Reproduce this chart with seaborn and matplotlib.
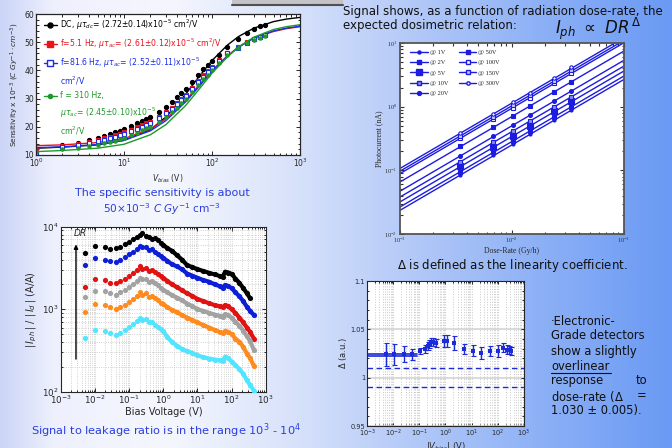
import numpy as np
import pandas as pd
import matplotlib
matplotlib.use("Agg")
import matplotlib.pyplot as plt
import matplotlib.ticker as mticker
from matplotlib.colors import LinearSegmentedColormap
from matplotlib.lines import Line2D
from matplotlib.patches import Rectangle
import seaborn as sns

# ---- sensitivity vs bias voltage (top left) ----
sens_bias = [1, 2, 3, 4, 5, 6, 7, 8, 9, 10, 12, 14, 16, 18, 20, 25, 30, 35, 40, 45,
             50, 60, 70, 80, 90, 100, 120, 150, 200, 250, 300, 350, 400]
sens_dc = [11.2, 13.5, 14.4, 15.3, 16.1, 16.7, 17.5, 18.0, 18.5, 19.2, 20.3, 21.2, 22.0, 22.8, 23.4, 25.2, 27.0, 28.8, 30.5, 32.0,
           33.4, 36.0, 38.5, 40.5, 42.0, 43.3, 45.6, 48.2, 51.3, 53.3, 54.7, 55.6, 56.2]
sens_f5 = [12.0, 13.2, 14.0, 14.6, 15.3, 15.9, 16.5, 17.0, 17.5, 18.0, 19.0, 19.8, 20.5, 21.2, 21.8, 23.4, 25.2, 26.8, 28.4, 29.8,
           31.2, 33.8, 36.2, 38.2, 39.8, 41.2, 43.6, 46.3, 48.2, 50.0, 51.2, 52.0, 52.6]
sens_f81 = [10.7, 12.7, 13.5, 14.1, 14.8, 15.4, 16.0, 16.5, 17.0, 17.5, 18.5, 19.3, 20.0, 20.7, 21.3, 23.0, 24.8, 26.4, 28.0, 29.4,
            30.8, 33.4, 35.8, 37.8, 39.4, 40.8, 43.2, 46.0, 48.0, 49.8, 51.0, 51.8, 52.4]
sens_f310 = [11.2, 12.0, 12.6, 13.1, 13.6, 14.1, 14.6, 15.1, 15.6, 16.0, 17.0, 17.9, 18.7, 19.4, 20.0, 21.8, 23.5, 25.2, 26.8, 28.3,
             29.7, 32.3, 34.8, 36.8, 38.5, 40.0, 42.6, 45.5, 47.8, 49.6, 50.8, 51.6, 52.2]
fit_bias = [1, 2, 5, 10, 20, 30, 50, 70, 100, 150, 200, 300, 500, 700, 1000]
fit_dc = [12.4, 12.8, 13.6, 15.2, 19.0, 23.5, 31.5, 37.5, 43.5, 49.0, 52.0, 55.0, 57.3, 58.2, 58.8]
fit_f5 = [13.3, 13.6, 14.4, 15.8, 19.2, 22.8, 29.3, 34.5, 40.0, 45.2, 48.3, 51.5, 53.8, 54.8, 55.5]
fit_f81 = [12.6, 12.9, 13.7, 15.2, 18.6, 22.2, 28.8, 34.0, 39.6, 45.0, 48.2, 51.5, 54.0, 55.0, 55.7]
fit_f310 = [11.2, 11.6, 12.4, 13.8, 17.2, 20.8, 27.5, 33.0, 39.0, 44.8, 48.3, 51.8, 54.5, 55.5, 56.2]
# legend text, one entry per printed line
sens_legend_lines = [r"DC, $\mu\tau_{dc}$= (2.72$\pm$0.14)x10$^{-5}$ cm$^2$/V",
                     r"f=5.1 Hz, $\mu\tau_{ac}$= (2.61$\pm$0.12)x10$^{-5}$ cm$^2$/V",
                     r"f=81.6 Hz, $\mu\tau_{ac}$= (2.52$\pm$0.11)x10$^{-5}$",
                     r"cm$^2$/V",
                     r"f = 310 Hz,",
                     r"$\mu\tau_{ac}$= (2.45$\pm$0.10)x10$^{-5}$",
                     r"cm$^2$/V"]

# ---- signal to leakage ratio (bottom left) ----
bias_v = [0.005, 0.01, 0.02, 0.028, 0.04, 0.055, 0.075, 0.1, 0.13, 0.17,
          0.2, 0.24, 0.3, 0.38, 0.46, 0.56, 0.7, 0.85, 1.0, 1.3,
          1.8, 2.5, 3.5, 5, 7, 10, 15, 22, 32, 45,
          55, 65, 80, 100, 130, 170, 220, 280, 350, 450]
ratio_black = [4840, 5900, 5600, 5300, 5450, 5750, 6100, 6600, 7000, 7600,
               8000, 8300, 7800, 7400, 7100, 7300, 6900, 6300, 6000, 5500,
               5100, 4500, 4000, 3400, 3250, 3050, 2900, 2750, 2640, 2520,
               2480, 2850, 2780, 2680, 2350, 2080, 1800, 1560, 1355, np.nan]
ratio_blue = [3430, 4210, 4000, 3800, 3750, 4000, 4300, 4700, 5000, 5400,
              5900, 5700, 5600, 5200, 5400, 5000, 4700, 4400, 4200, 3850,
              3500, 3300, 3050, 2700, 2550, 2400, 2250, 2150, 2000, 1900,
              1800, 1970, 1900, 1800, 1600, 1430, 1250, 1070, 950, 850]
ratio_red = [1875, 2320, 2250, 2100, 2050, 2200, 2350, 2550, 2750, 3000,
             3300, 3100, 3200, 2900, 3000, 2800, 2650, 2500, 2400, 2200,
             2000, 1850, 1700, 1550, 1450, 1330, 1250, 1180, 1120, 1080,
             1060, 1120, 1080, 1000, 900, 790, 690, 600, 530, 440]
ratio_gray = [1395, 1675, 1650, 1550, 1500, 1600, 1700, 1850, 2000, 2200,
              2400, 2300, 2350, 2150, 2200, 2050, 1950, 1800, 1720, 1600,
              1480, 1380, 1280, 1170, 1090, 1000, 950, 900, 860, 830,
              810, 870, 840, 790, 700, 630, 550, 470, 410, 320]
ratio_orange = [917, 1145, 1120, 1050, 1000, 1060, 1130, 1230, 1330, 1450,
                1600, 1500, 1560, 1420, 1450, 1350, 1280, 1200, 1150, 1060,
                980, 920, 850, 790, 740, 690, 640, 600, 560, 530,
                510, 545, 530, 500, 440, 400, 350, 290, 255, 205]
ratio_cyan = [452, 560, 545, 520, 490, 520, 560, 610, 660, 720,
              780, 730, 760, 690, 700, 650, 610, 580, 540, 460,
              400, 360, 330, 310, 295, 275, 262, 252, 245, 240,
              236, 266, 255, 232, 210, 187, 165, 138, 120, 103]

# ---- photocurrent vs dose rate (top right) ----
dose_rate = [0.0035, 0.0069, 0.0103, 0.0145, 0.024, 0.034]
fit_dose = [0.001, 0.1]
pc_labels = ["@ 1V", "@ 2V", "@ 5V", "@ 10V", "@ 20V", "@ 50V", "@ 100V", "@ 150V", "@ 300V"]
pc_1v = [0.0849, 0.171, 0.258, 0.367, 0.618, 0.89]
pc_2v = [0.0957, 0.192, 0.29, 0.413, 0.70, 1.0]
pc_5v = [0.115, 0.231, 0.35, 0.497, 0.84, 1.22]
pc_10v = [0.137, 0.275, 0.416, 0.59, 1.0, 1.44]
pc_20v = [0.169, 0.34, 0.514, 0.73, 1.23, 1.77]
pc_50v = [0.237, 0.476, 0.72, 1.02, 1.72, 2.43]
pc_100v = [0.32, 0.64, 0.97, 1.38, 2.33, 3.42]
pc_150v = [0.348, 0.70, 1.06, 1.50, 2.53, 3.75]
pc_300v = [0.384, 0.77, 1.17, 1.66, 2.80, 4.15]
pcfit_1v = [0.0233, 2.65]
pcfit_2v = [0.0263, 3.0]
pcfit_5v = [0.0316, 3.6]
pcfit_10v = [0.0377, 4.3]
pcfit_20v = [0.0465, 5.3]
pcfit_50v = [0.065, 7.4]
pcfit_100v = [0.088, 10.0]
pcfit_150v = [0.096, 10.9]
pcfit_300v = [0.106, 12.0]

# ---- linearity coefficient vs bias (bottom right) ----
delta_v = [0.0054, 0.011, 0.026, 0.052, 0.107, 0.166, 0.21, 0.24, 0.28, 0.34, 0.43, 0.88,
           1.1, 2.1, 5.3, 10.9, 21.8, 52, 101, 159, 224, 265, 330]
delta = [1.0243, 1.0243, 1.0243, 1.024, 1.0278, 1.0298, 1.0326, 1.0347, 1.037, 1.037, 1.036, 1.0378,
         1.0378, 1.036, 1.0295, 1.028, 1.0257, 1.0274, 1.0278, 1.0312, 1.0291, 1.0284, 1.0278]
delta_err = [0.012, 0.011, 0.0086, 0.006, 0.003, 0.004, 0.004, 0.004, 0.004, 0.004, 0.004, 0.006,
             0.006, 0.007, 0.005, 0.006, 0.006, 0.005, 0.006, 0.005, 0.005, 0.004, 0.004]
avg_v = [0.001, 0.085]
avg_hi = [1.025, 1.025]
avg_lo = [1.0226, 1.0226]
bound_hi = 1.01
bound_lo = 0.99

W, H = 672, 448
BLUE_TXT = "#2a3ee0"
PC_BLUE = "#1c1ce0"

sns.set_style("ticks")
plt.rcParams["font.family"] = ["DejaVu Sans"]
plt.rcParams["mathtext.fontset"] = "dejavusans"
plt.rcParams["xtick.direction"] = "in"
plt.rcParams["ytick.direction"] = "in"
plt.rcParams["xtick.top"] = True
plt.rcParams["ytick.right"] = True


def rect(x0, y0, x1, y1):
    # pixel box (left, top, right, bottom) -> figure fraction
    return [x0 / W, 1 - y1 / H, (x1 - x0) / W, (y1 - y0) / H]


def log_minor(ax, axis="x"):
    loc = mticker.LogLocator(base=10, subs=np.arange(2, 10), numticks=100)
    if axis == "x":
        ax.xaxis.set_minor_locator(loc)
        ax.xaxis.set_minor_formatter(mticker.NullFormatter())
    else:
        ax.yaxis.set_minor_locator(loc)
        ax.yaxis.set_minor_formatter(mticker.NullFormatter())


fig = plt.figure(figsize=(6.72, 4.48), dpi=100)

# slide background
bg = fig.add_axes([0, 0, 1, 1], zorder=-10)
stops = [0.0, 0.08, 0.25, 0.42, 0.6, 0.8, 1.0]
cols = ["#ccd5f7", "#eef1fd", "#f5f7fe", "#dbe4fb", "#b6cbf8", "#8eb1f6", "#6a9af4"]
cmap = LinearSegmentedColormap.from_list("slide", list(zip(stops, cols)))
bg.imshow(np.linspace(0, 1, 512)[None, :], aspect="auto", cmap=cmap, extent=[0, 1, 0, 1])
bg.set_xlim(0, 1)
bg.set_ylim(0, 1)
bg.axis("off")
bg.add_patch(Rectangle((232 / W, 1 - 5 / H), 111 / W, 5 / H, fc="#c4c4c8", ec="none"))
bg.plot([232 / W, 343 / W], [1 - 5 / H, 1 - 5 / H], color="#505050", lw=1.5)

# ---------------- sensitivity ----------------
ax1 = fig.add_axes(rect(36, 14, 300, 155))
ax1.set_facecolor("white")
sens_sets = [(sens_dc, fit_dc, "black", "o", "black", 3.0),
             (sens_f5, fit_f5, "#e8141c", "s", "#e8141c", 3.2),
             (sens_f81, fit_f81, "#1a2ee6", "s", "white", 3.2),
             (sens_f310, fit_f310, "#1e9a2a", "o", "#1e9a2a", 2.4)]
handles = []
for pts, fit, c, m, fc, ms in sens_sets:
    sns.lineplot(x=fit_bias, y=fit, color=c, lw=1.0, ax=ax1, estimator=None, sort=False)
    sns.lineplot(x=sens_bias, y=pts, color=c, marker=m, markersize=ms, markerfacecolor=fc,
                 markeredgecolor=c, markeredgewidth=0.8, linestyle="", ax=ax1, estimator=None, sort=False)
    handles.append(Line2D([], [], color=c, marker=m, markersize=ms + 0.6, markerfacecolor=fc,
                          markeredgecolor=c, lw=1.0))
blank = Line2D([], [], lw=0, marker=None)
leg_handles = [handles[0], handles[1], handles[2], blank, handles[3], blank, blank]
leg_colors = ["black", "#e8141c", "#1a2ee6", "#1a2ee6", "#1e9a2a", "#1e9a2a", "#1e9a2a"]
ax1.set_xscale("log")
ax1.set_xlim(1, 1000)
ax1.set_ylim(10, 60)
log_minor(ax1, "x")
ax1.yaxis.set_major_locator(mticker.MultipleLocator(10))
ax1.yaxis.set_minor_locator(mticker.MultipleLocator(2))
ax1.tick_params(which="both", labelsize=5.5, pad=1.5, length=3, width=0.7)
ax1.tick_params(which="minor", length=1.8)
ax1.set_xlabel(r"$V_{bias}$ (V)", fontsize=5.5, labelpad=2)
ax1.set_ylabel(r"Sensitivity x 10$^{-3}$ ($C\ Gy^{-1}\cdot cm^{-3}$)", fontsize=5.3, labelpad=2)
for s in ax1.spines.values():
    s.set_linewidth(0.9)
ax1.legend(leg_handles, sens_legend_lines, loc="upper left", bbox_to_anchor=(0.015, 1.005), frameon=False,
           fontsize=5.6, handlelength=1.7, handletextpad=0.4, labelspacing=0.6,
           labelcolor=leg_colors, borderaxespad=0.1)

fig.text(162 / W, 1 - 193 / H, "The specific sensitivity is about", ha="center", va="center",
         color=BLUE_TXT, fontsize=8.0)
fig.text(162 / W, 1 - 209 / H, r"50×10$^{-3}$ $C$ $Gy$$^{-1}$ cm$^{-3}$", ha="center", va="center",
         color=BLUE_TXT, fontsize=7.6)

# ---------------- signal / leakage ratio ----------------
ax2 = fig.add_axes(rect(61, 226.7, 265.7, 391.7))
ax2.set_facecolor("white")
ratio_sets = [(ratio_black, "#000000"), (ratio_blue, "#0c1ed8"), (ratio_red, "#e01212"),
              (ratio_gray, "#a2a2a2"), (ratio_orange, "#ff8a1e"), (ratio_cyan, "#50e6ff")]
for vals, c in ratio_sets:
    sns.lineplot(x=bias_v[18:], y=vals[18:], color=c, lw=3.0, ax=ax2, estimator=None, sort=False)
    sns.scatterplot(x=bias_v, y=vals, color=c, s=14, linewidth=0, ax=ax2, zorder=3)
ax2.set_xscale("log")
ax2.set_yscale("log")
ax2.set_xlim(1e-3, 1e3)
ax2.set_ylim(1e2, 1e4)
log_minor(ax2, "x")
log_minor(ax2, "y")
ax2.grid(True, which="both", color="#c4c4c4", ls=":", lw=0.6)
ax2.set_axisbelow(True)
ax2.tick_params(which="both", labelsize=6.3, pad=1.5, length=3, width=0.7)
ax2.tick_params(which="minor", length=1.6)
ax2.set_xlabel("Bias Voltage (V)", fontsize=7, labelpad=0.5)
ax2.set_ylabel(r"$|\,I_{ph}\,|\ /\ |\,I_d\,|$ (A/A)", fontsize=7, labelpad=2)
ax2.annotate("", xy=(2.75e-3, 6600), xytext=(2.75e-3, 230),
             arrowprops=dict(arrowstyle="-|>", color="black", lw=1.0, mutation_scale=6))
ax2.text(2.4e-3, 8200, "DR", fontsize=6.5, style="italic", va="center")

fig.text(166 / W, 1 - 431 / H, r"Signal to leakage ratio is in the range 10$^3$ - 10$^4$", ha="center",
         va="center", color=BLUE_TXT, fontsize=8.2)

# ---------------- photocurrent ----------------
fig.text(343 / W, 1 - 12 / H, "Signal shows, as a function of radiation dose-rate, the", va="center",
         fontsize=8.5, color="#101010")
fig.text(343 / W, 1 - 26 / H, "expected dosimetric relation:", va="center", fontsize=8.5, color="#101010")
fig.text(555 / W, 1 - 29 / H, r"$I_{ph}\ \propto\ DR^{\,\Delta}$", va="center", fontsize=12, color="#101010")

ax3 = fig.add_axes(rect(399.5, 43, 623.5, 234))
ax3.set_facecolor("white")
pc_sets = [(pc_1v, pcfit_1v, "o", PC_BLUE, 2.2), (pc_2v, pcfit_2v, "s", PC_BLUE, 3.2),
           (pc_5v, pcfit_5v, "s", PC_BLUE, 3.8), (pc_10v, pcfit_10v, "s", "#8a8af0", 3.4),
           (pc_20v, pcfit_20v, "o", PC_BLUE, 2.8), (pc_50v, pcfit_50v, "s", PC_BLUE, 3.4),
           (pc_100v, pcfit_100v, "s", "white", 3.2), (pc_150v, pcfit_150v, "s", "#c8c8ff", 3.2),
           (pc_300v, pcfit_300v, "o", "white", 2.4)]
pc_handles = []
for pts, fit, m, fc, ms in pc_sets:
    sns.lineplot(x=fit_dose, y=fit, color=PC_BLUE, lw=1.0, ax=ax3, estimator=None, sort=False)
    sns.lineplot(x=dose_rate, y=pts, color=PC_BLUE, marker=m, markersize=ms, markerfacecolor=fc,
                 markeredgecolor=PC_BLUE, markeredgewidth=0.8, linestyle="", ax=ax3,
                 estimator=None, sort=False)
    pc_handles.append(Line2D([], [], color=PC_BLUE, marker=m, markersize=ms, markerfacecolor=fc,
                             markeredgecolor=PC_BLUE, lw=1.0))
ax3.set_xscale("log")
ax3.set_yscale("log")
ax3.set_xlim(1e-3, 1e-1)
ax3.set_ylim(1e-2, 1e1)
log_minor(ax3, "x")
log_minor(ax3, "y")
ax3.tick_params(which="both", labelsize=4.6, pad=1.5, length=3, width=0.8, colors="#333333")
ax3.tick_params(which="minor", length=1.8)
for lab in ax3.get_xticklabels() + ax3.get_yticklabels():
    lab.set_family("Liberation Serif")
ax3.set_xlabel("Dose-Rate (Gy/h)", fontsize=5.6, family="Liberation Serif", labelpad=1)
ax3.set_ylabel("Photocurrent (nA)", fontsize=5.6, family="Liberation Serif", labelpad=1)
for s in ax3.spines.values():
    s.set_color("#555555")
    s.set_linewidth(1.3)
ax3.legend(pc_handles, pc_labels, ncol=2, loc="upper left", bbox_to_anchor=(0.03, 0.985), frameon=False,
           prop={"family": "Liberation Serif", "size": 4.6}, handlelength=2.8, handletextpad=0.3,
           labelspacing=0.75, columnspacing=1.6, borderaxespad=0.2)

fig.text(397 / W, 1 - 265 / H, r"$\Delta$ is defined as the linearity coefficient.", va="center",
         fontsize=8.5, color="#101010")

# ---------------- linearity coefficient ----------------
ax4 = fig.add_axes(rect(367, 281, 524, 426))
ax4.set_facecolor("white")
ax4.errorbar(delta_v, delta, yerr=delta_err, fmt="none", ecolor="#1c2ad8", elinewidth=1.0,
             capsize=1.8, capthick=0.8, zorder=3)
sns.scatterplot(x=delta_v, y=delta, color="#1c2ad8", marker="s", s=7, linewidth=0, ax=ax4, zorder=4)
sns.lineplot(x=avg_v, y=avg_hi, color="#1c2ad8", lw=1.2, ax=ax4, estimator=None)
sns.lineplot(x=avg_v, y=avg_lo, color="#1c2ad8", lw=1.2, ax=ax4, estimator=None)
ax4.axhline(bound_hi, color="#1c2ad8", ls=(0, (4, 2.5)), lw=1.0)
ax4.axhline(bound_lo, color="#1c2ad8", ls=(0, (4, 2.5)), lw=1.0)
ax4.set_xscale("log")
ax4.set_xlim(1e-3, 1e3)
ax4.set_ylim(0.95, 1.1)
log_minor(ax4, "x")
ax4.set_yticks([0.95, 1.0, 1.05, 1.1])
ax4.set_yticklabels(["0.95", "1", "1.05", "1.1"])
ax4.yaxis.set_minor_locator(mticker.MultipleLocator(0.01))
ax4.grid(True, axis="x", which="both", color="#c8c8c8", ls=":", lw=0.7)
ax4.grid(True, axis="y", which="major", color="#d4d4d4", ls="-", lw=1.2)
ax4.set_axisbelow(True)
ax4.tick_params(which="both", labelsize=4.8, pad=1.5, length=2.5, width=0.7)
ax4.tick_params(which="minor", length=1.5)
ax4.set_xlabel(r"|$V_{bias}$| (V)", fontsize=6, labelpad=0.5)
ax4.set_ylabel(r"$\Delta$ (a.u.)", fontsize=6, labelpad=1)

# right-hand note, justified by hand
note_x0, note_x1 = 551 / W, 647 / W
note = [("·Electronic-", None, 321.7), ("Grade detectors", None, 335.7), ("show a slightly", None, 351),
        ("overlinear", None, 366), ("response", "to", 380.7), ("dose-rate ($\\Delta$", "=", 396),
        ("1.030 ± 0.005).", None, 410)]
for left, right, y in note:
    fig.text(note_x0, 1 - y / H, left, va="center", fontsize=8.3, color="#101010")
    if right:
        fig.text(note_x1, 1 - y / H, right, va="center", ha="right", fontsize=8.3, color="#101010")
bg.plot([551 / W, 611 / W], [1 - 372.5 / H, 1 - 372.5 / H], color="#101010", lw=0.8)

fig.savefig("out.png", dpi=100)
